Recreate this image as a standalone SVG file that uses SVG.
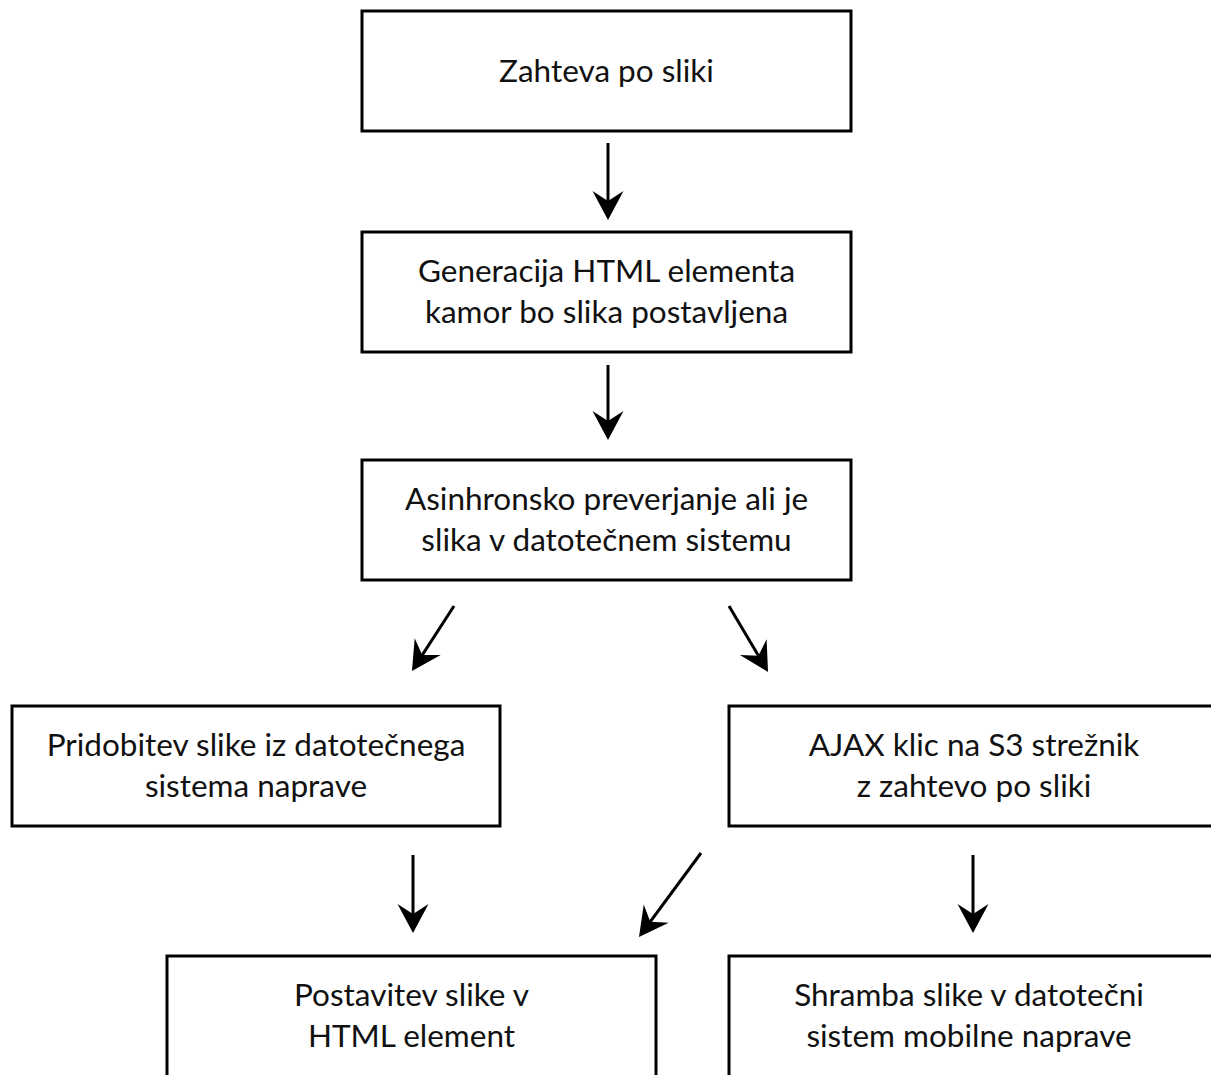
<svg xmlns="http://www.w3.org/2000/svg" width="1211" height="1075" viewBox="0 0 1211 1075">
<style>
.box{fill:#fff;stroke:#000;stroke-width:3}
.t{font-family:Lato,"Open Sans","Liberation Sans",sans-serif;font-size:31.5px;fill:#111;text-anchor:middle}
.c{stroke:#000;stroke-width:3;fill:none;marker-end:url(#ah)}
</style>
<defs>
<marker id="ah" markerUnits="userSpaceOnUse" markerWidth="60" markerHeight="40" viewBox="-40 -20 60 40" refX="0" refY="0" orient="auto" overflow="visible">
<path d="M15,0 L-14,-15.5 L-4,0 L-14,15.5 Z" fill="#000"/>
</marker>
</defs>
<rect width="1211" height="1075" fill="#fff"/>
<g id="n1"><rect class="box" x="362" y="11" width="489" height="120"/><text class="t" x="606.5" y="82">Zahteva po sliki</text></g>
<g id="n2"><rect class="box" x="362" y="232" width="489" height="120"/><text class="t" x="606.5" y="282">Generacija HTML elementa</text><text class="t" x="606.5" y="323">kamor bo slika postavljena</text></g>
<g id="n3"><rect class="box" x="362" y="460" width="489" height="120"/><text class="t" x="606.5" y="510">Asinhronsko preverjanje ali je</text><text class="t" x="606.5" y="551">slika v datotečnem sistemu</text></g>
<g id="n4"><rect class="box" x="12" y="706" width="488" height="120"/><text class="t" x="256" y="756">Pridobitev slike iz datotečnega</text><text class="t" x="256" y="797">sistema naprave</text></g>
<g id="n5"><rect class="box" x="729" y="706" width="500" height="120"/><text class="t" x="974" y="756">AJAX klic na S3 strežnik</text><text class="t" x="974" y="797">z zahtevo po sliki</text></g>
<g id="n6"><rect class="box" x="167" y="956" width="489" height="140"/><text class="t" x="411.5" y="1006">Postavitev slike v</text><text class="t" x="411.5" y="1047">HTML element</text></g>
<g id="n7"><rect class="box" x="729" y="956" width="500" height="140"/><text class="t" x="969" y="1006">Shramba slike v datotečni</text><text class="t" x="969" y="1047">sistem mobilne naprave</text></g>
<g id="connectors">
<path class="c" d="M608,143 L608,205"/>
<path class="c" d="M608,365 L608,425"/>
<path class="c" d="M454,606 L420.1,658.4"/>
<path class="c" d="M729,606 L760.4,659.1"/>
<path class="c" d="M413,855 L413,918"/>
<path class="c" d="M701,853 L647.9,924.9"/>
<path class="c" d="M973,855 L973,918"/>
</g>
</svg>
